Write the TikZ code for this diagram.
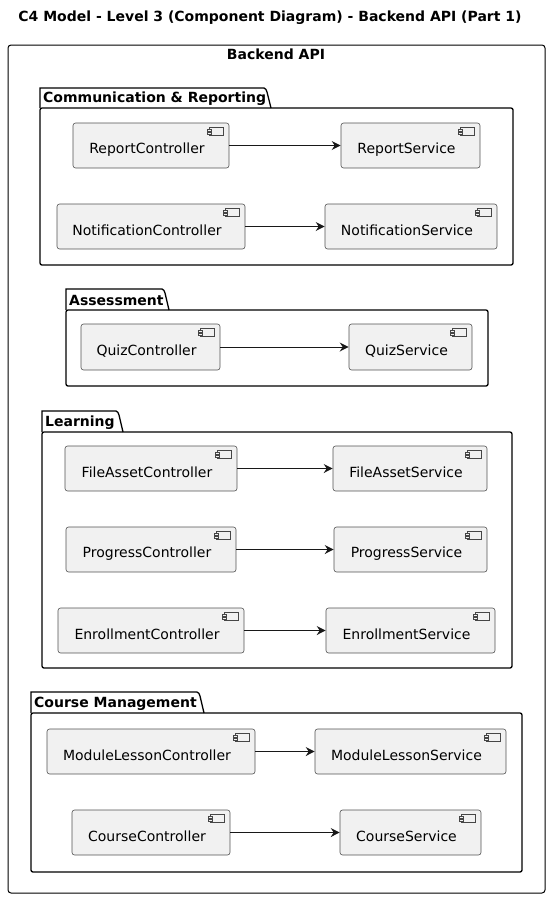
\documentclass[tikz,border=0pt]{standalone}
\usepackage{fontspec}
\setmainfont{DejaVu Sans}
\usetikzlibrary{arrows.meta,calc}
\definecolor{cfill}{HTML}{F1F1F1}
\definecolor{cline}{HTML}{181818}
\tikzset{
  comp/.style={draw=cline!75, line width=0.6pt, fill=cfill, rounded corners=2.5pt, inner sep=0pt},
  ctext/.style={font=\fontsize{14}{16}\selectfont, inner sep=0pt, text=black},
  ptext/.style={font=\bfseries\fontsize{14}{16}\selectfont, inner sep=0pt, anchor=west, text=black},
  pkgline/.style={draw=black, line width=1.3pt},
  arr/.style={draw=cline, line width=0.9pt, -{Stealth[length=9pt,width=9pt,inset=3pt]}},
  cicon/.pic={
    \draw[cline!80, line width=0.5pt, fill=cfill] (-20,4) rectangle (-6,12);
    \draw[cline!80, line width=0.5pt, fill=cfill] (-22,6) rectangle (-18,8);
    \draw[cline!80, line width=0.5pt, fill=cfill] (-22,9) rectangle (-18,11);
  }
}
\newcommand\mycomp[6]{%
  \node[comp, minimum width={(#4-#2)*1pt}, minimum height={(#5-#3)*1pt}] (#1) at ({(#2+#4)/2},{(#3+#5)/2}) {};
  \node[ctext] (#1-t) at ($(#1.center)+(-4,4)$) {#6};
  \pic at (#4,#3) {cicon};
}
\newcommand\mypkg[8]{%
  \draw[pkgline, rounded corners=2pt] (#2,#5) rectangle (#6,#7);
  \draw[pkgline] (#2,#5) -- (#2,#3) -- (#4-4,#3) to[out=0,in=120] (#4-1,#3+4) -- (#4+3,#5);
  \node[ptext] (#1) at (#2+3,{(#3+#5)/2+1}) {#8};
}
\begin{document}
\begin{tikzpicture}[x=1pt,y=-1pt]
\useasboundingbox (0,0) rectangle (551,900);
\node[font=\bfseries\fontsize{14}{16}\selectfont, inner sep=0pt] (title) at (270,18) {C4 Model - Level 3 (Component Diagram) - Backend API (Part 1)};
\draw[line width=1pt, rounded corners=3pt] (8,45) rectangle (545,893);
\node[font=\bfseries\fontsize{14}{16}\selectfont, inner sep=0pt] (backend) at (276,54) {Backend API};

% Communication & Reporting
\mypkg{p1}{40}{88}{268}{108}{513}{265}{Communication \& Reporting}
\mycomp{rc}{73}{123}{229}{168}{ReportController}
\mycomp{rs}{341}{123}{480}{168}{ReportService}
\mycomp{nc}{57}{204}{245}{249}{NotificationController}
\mycomp{ns}{325}{204}{497}{249}{NotificationService}
\draw[arr] (rc.east) -- (rs.west);
\draw[arr] (nc.east) -- (ns.west);

% Assessment
\mypkg{p2}{66}{289}{166}{310}{488}{386}{Assessment}
\mycomp{qc}{81}{324}{220}{370}{QuizController}
\mycomp{qs}{349}{324}{472}{370}{QuizService}
\draw[arr] (qc.east) -- (qs.west);

% Learning
\mypkg{p3}{42}{411}{120}{432}{512}{668}{Learning}
\mycomp{fc}{65}{446}{237}{491}{FileAssetController}
\mycomp{fs}{333}{446}{487}{491}{FileAssetService}
\mycomp{pc}{66}{527}{236}{572}{ProgressController}
\mycomp{ps}{334}{527}{487}{572}{ProgressService}
\mycomp{ec}{58}{608}{244}{653}{EnrollmentController}
\mycomp{es}{326}{608}{495}{653}{EnrollmentService}
\draw[arr] (fc.east) -- (fs.west);
\draw[arr] (pc.east) -- (ps.west);
\draw[arr] (ec.east) -- (es.west);

% Course Management
\mypkg{p4}{31}{692}{201}{713}{522}{872}{Course Management}
\mycomp{mc}{47}{729}{255}{774}{ModuleLessonController}
\mycomp{ms}{315}{729}{506}{774}{ModuleLessonService}
\mycomp{cc}{72}{810}{230}{855}{CourseController}
\mycomp{cs}{340}{810}{481}{855}{CourseService}
\draw[arr] (mc.east) -- (ms.west);
\draw[arr] (cc.east) -- (cs.west);
\end{tikzpicture}
\end{document}
